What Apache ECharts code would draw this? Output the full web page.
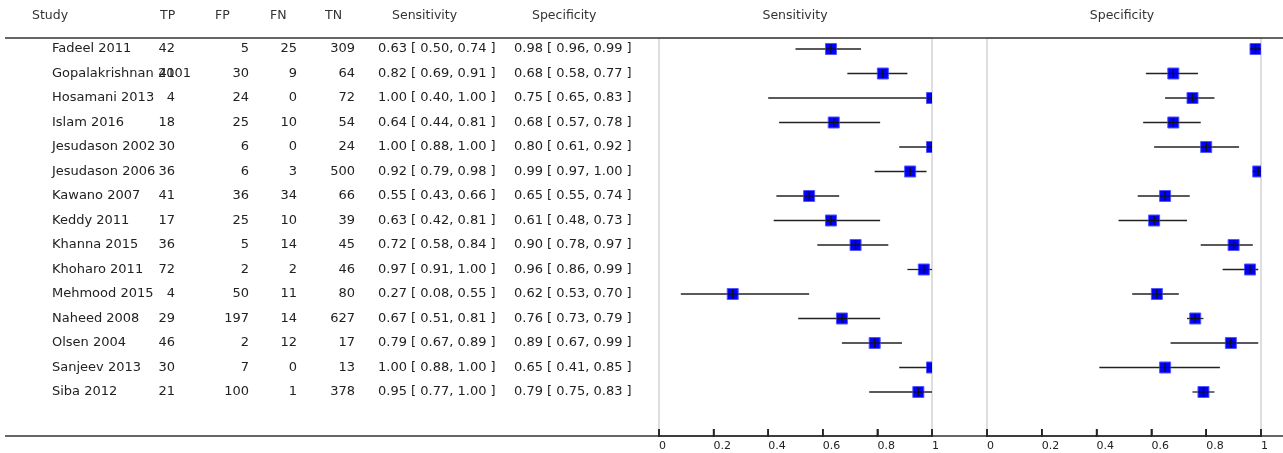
<!DOCTYPE html>
<html><head><meta charset="utf-8">
<script src="https://cdn.jsdelivr.net/npm/echarts@6/dist/echarts.min.js"></script>
<style>html,body{margin:0;padding:0;background:#fff}#c{width:1283px;height:453px}</style>
</head><body><div id="c"></div>
<script>
const studies = ["Fadeel 2011","Gopalakrishnan 2001","Hosamani 2013","Islam 2016","Jesudason 2002","Jesudason 2006","Kawano 2007","Keddy 2011","Khanna 2015","Khoharo 2011","Mehmood 2015","Naheed 2008","Olsen 2004","Sanjeev 2013","Siba 2012"];
const TP = [42,41,4,18,30,36,41,17,36,72,4,29,46,30,21];
const FP = [5,30,24,25,6,6,36,25,5,2,50,197,2,7,100];
const FN = [25,9,0,10,0,3,34,10,14,2,11,14,12,0,1];
const TN = [309,64,72,54,24,500,66,39,45,46,80,627,17,13,378];
const sens   = [0.63,0.82,1.00,0.64,1.00,0.92,0.55,0.63,0.72,0.97,0.27,0.67,0.79,1.00,0.95];
const sensLo = [0.50,0.69,0.40,0.44,0.88,0.79,0.43,0.42,0.58,0.91,0.08,0.51,0.67,0.88,0.77];
const sensHi = [0.74,0.91,1.00,0.81,1.00,0.98,0.66,0.81,0.84,1.00,0.55,0.81,0.89,1.00,1.00];
const spec   = [0.98,0.68,0.75,0.68,0.80,0.99,0.65,0.61,0.90,0.96,0.62,0.76,0.89,0.65,0.79];
const specLo = [0.96,0.58,0.65,0.57,0.61,0.97,0.55,0.48,0.78,0.86,0.53,0.73,0.67,0.41,0.75];
const specHi = [0.99,0.77,0.83,0.78,0.92,1.00,0.74,0.73,0.97,0.99,0.70,0.79,0.99,0.85,0.83];
const xTicks = [0,0.2,0.4,0.6,0.8,1];
const headers = ["Study","TP","FP","FN","TN","Sensitivity","Specificity"];
const plotTitles = ["Sensitivity","Specificity"];

const FONT = "DejaVu Sans";
const FS = 13;
const TXT = "#222";
const f2 = v => v.toFixed(2);
const ci = (e,l,h) => f2(e) + " [ " + f2(l) + ", " + f2(h) + " ]";

const chart = echarts.init(document.getElementById('c'), null, {renderer:'canvas'});
const yMin = -0.449, yMax = 15.796;
const yAx = gi => ({type:'value', gridIndex:gi, inverse:true, min:yMin, max:yMax, show:false});
const TOP = 38, H = 398;

const cols = [[52,'left'],[175,'right'],[249,'right'],[297,'right'],[355,'right'],[378,'left'],[514,'left']];
const headCols = [[32,'left'],[160,'left'],[215,'left'],[270,'left'],[325,'left'],[392,'left'],[532,'left']];

const tableData = studies.map((s,i)=>[i, s, TP[i], FP[i], FN[i], TN[i], ci(sens[i],sensLo[i],sensHi[i]), ci(spec[i],specLo[i],specHi[i])]);

function tableItem(params, api){
  const i = api.value(0);
  const row = tableData[params.dataIndex];
  const children = [];
  for (let c=0;c<7;c++){
    const p = api.coord([cols[c][0], i]);
    children.push({type:'text', x:p[0], y:p[1], style:{text:String(row[c+1]), fill:TXT, font:FS+'px "'+FONT+'"', textAlign:cols[c][1], textVerticalAlign:'middle'}});
  }
  return {type:'group', children};
}

function forestItem(params, api){
  const i = api.value(0), e = api.value(1), lo = api.value(2), hi = api.value(3);
  const pl = api.coord([lo,i]), ph = api.coord([hi,i]), pe = api.coord([e,i]);
  const s = 11;
  return {type:'group', children:[
    {type:'line', shape:{x1:pl[0],y1:pl[1],x2:ph[0],y2:ph[1]}, style:{stroke:'#222', lineWidth:1.3}},
    {type:'rect', shape:{x:pe[0]-s/2, y:pe[1]-s/2, width:s, height:s}, style:{fill:'#0000ff', stroke:'#5555ff', lineWidth:1}},
    {type:'line', shape:{x1:pe[0]-s/2,y1:pe[1],x2:pe[0]+s/2,y2:pe[1]}, style:{stroke:'#111', lineWidth:1.2}},
    {type:'line', shape:{x1:pe[0],y1:pe[1]-s/2+1,x2:pe[0],y2:pe[1]+s/2-1}, style:{stroke:'#111', lineWidth:1.4}}
  ]};
}

function tickItem(params, api){
  const x = api.coord([api.value(0), 0])[0];
  const yb = TOP + H;
  return {type:'rect', shape:{x:x-0.8, y:yb-7, width:1.6, height:8}, style:{fill:'#222'}, z2:10};
}

const xPlot = gi => ({type:'value', gridIndex:gi, position:'bottom', min:0, max:1, interval:0.2,
  axisLine:{show:true, onZero:false, lineStyle:{color:'#333', width:1.6}}, splitLine:{show:false},
  axisTick:{show:true, inside:true, length:7, lineStyle:{color:'#222', width:1.5}},
  axisLabel:{show:true, margin:5, align:'left', fontFamily:FONT, fontSize:11, color:TXT}});

const graphics = [
  {type:'line', shape:{x1:5,y1:TOP,x2:1283,y2:TOP}, style:{stroke:'#333', lineWidth:1.6}, z:100},
  {type:'line', shape:{x1:5,y1:TOP+H,x2:1283,y2:TOP+H}, style:{stroke:'#333', lineWidth:1.6}, z:1}
];
headers.forEach((h,k)=>graphics.push({type:'text', x:headCols[k][0], y:16, style:{text:h, fill:'#333', font:'12.5px "'+FONT+'"', textAlign:'left', textVerticalAlign:'middle'}}));
[[795,plotTitles[0]],[1122,plotTitles[1]]].forEach(([x,t])=>graphics.push({type:'text', x:x, y:16, style:{text:t, fill:'#333', font:'12.5px "'+FONT+'"', textAlign:'center', textVerticalAlign:'middle'}}));

chart.setOption({
  animation:false,
  grid:[
    {left:0, top:TOP, width:659, height:H},
    {left:659, top:TOP, width:273, height:H, show:true, borderColor:'#c8c8c8', borderWidth:1.2, backgroundColor:'transparent'},
    {left:987, top:TOP, width:274, height:H, show:true, borderColor:'#c8c8c8', borderWidth:1.2, backgroundColor:'transparent'}
  ],
  xAxis:[{type:'value', gridIndex:0, min:0, max:659, show:false}, xPlot(1), xPlot(2)],
  yAxis:[yAx(0), yAx(1), yAx(2)],
  graphic: graphics,
  series:[
    {type:'custom', xAxisIndex:0, yAxisIndex:0, renderItem:tableItem, data:tableData.map(r=>[r[0]]), clip:false},
    {type:'custom', xAxisIndex:1, yAxisIndex:1, renderItem:tickItem, encode:{x:0}, data:xTicks.map(v=>[v]), clip:false, z:60},
    {type:'custom', xAxisIndex:2, yAxisIndex:2, renderItem:tickItem, encode:{x:0}, data:xTicks.map(v=>[v]), clip:false, z:60},
    {type:'custom', xAxisIndex:1, yAxisIndex:1, renderItem:forestItem, clip:true,
     data:studies.map((s,i)=>[i, sens[i], sensLo[i], sensHi[i]])},
    {type:'custom', xAxisIndex:2, yAxisIndex:2, renderItem:forestItem, clip:true,
     data:studies.map((s,i)=>[i, spec[i], specLo[i], specHi[i]])}
  ]
});
</script></body></html>
